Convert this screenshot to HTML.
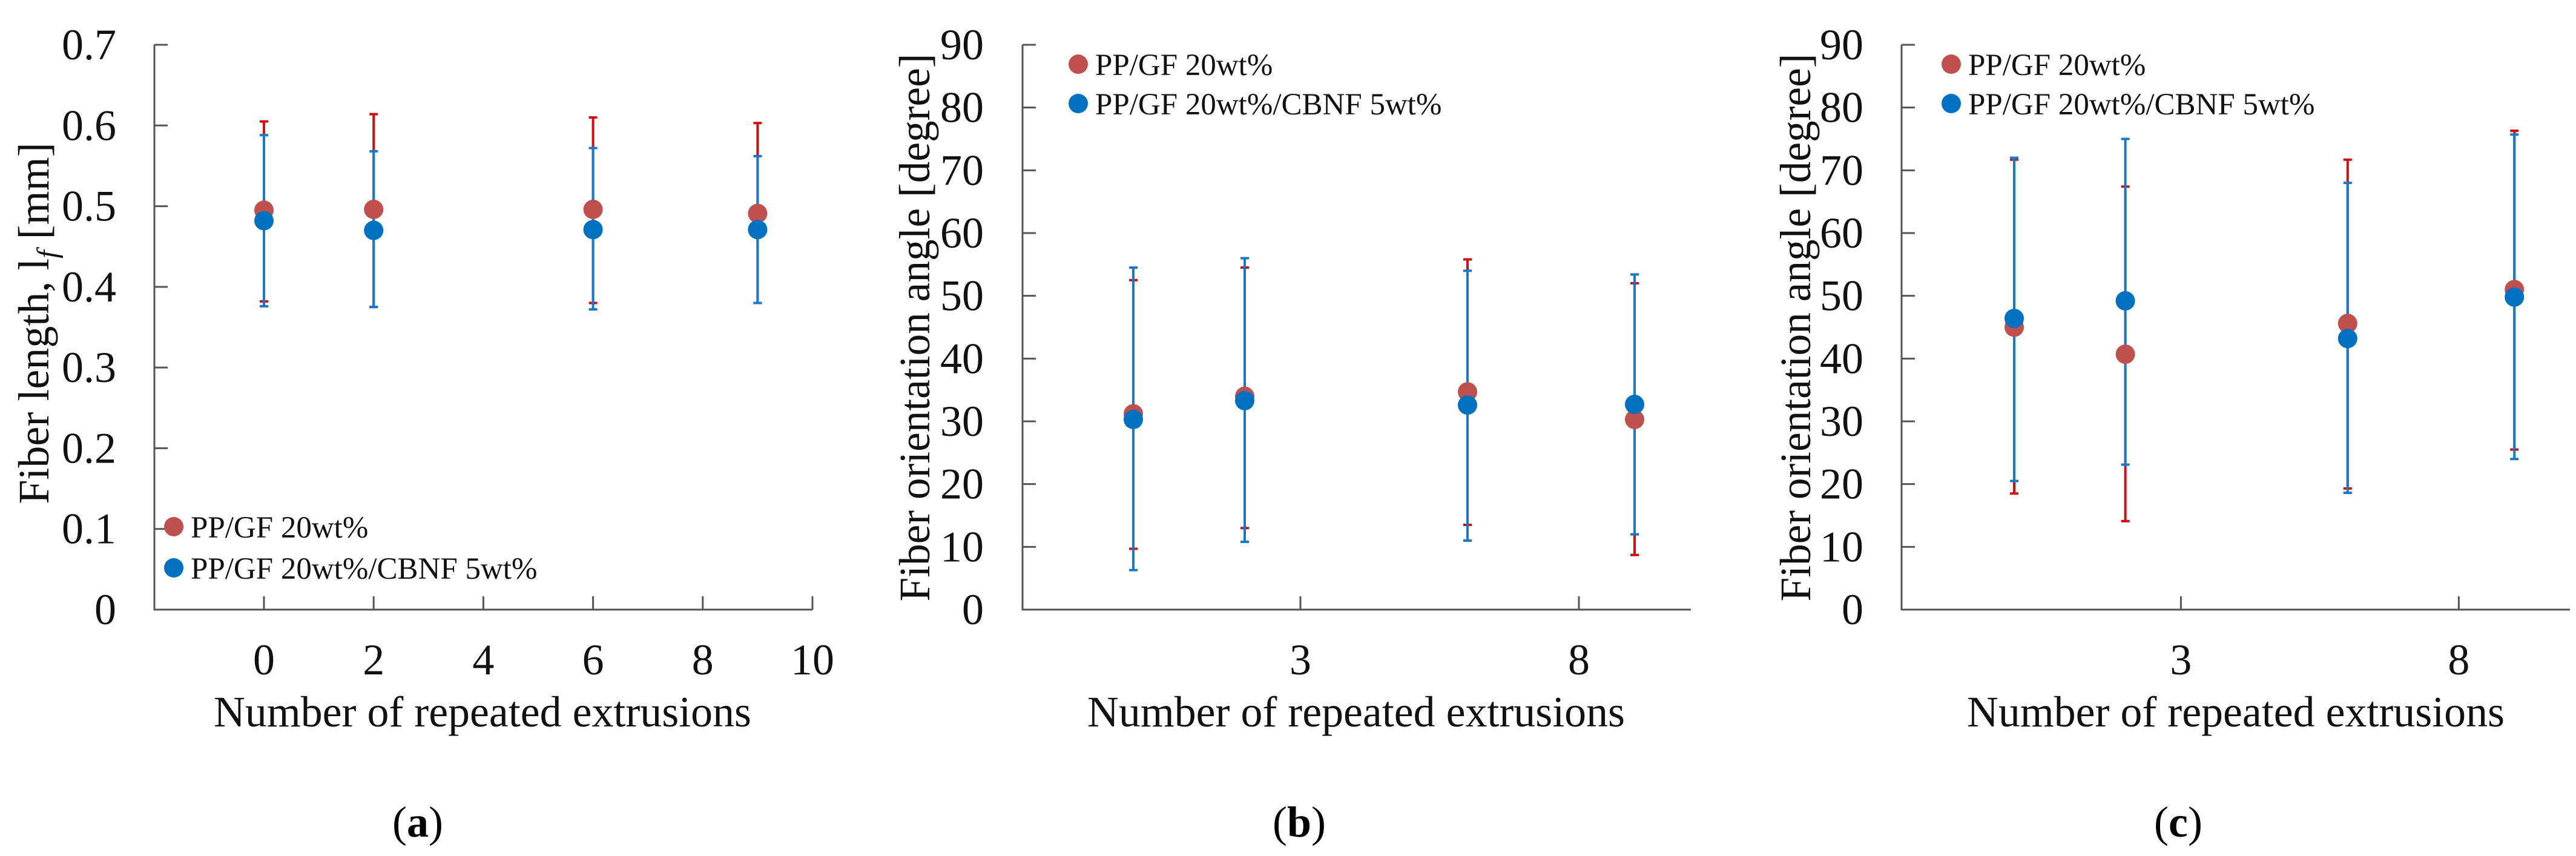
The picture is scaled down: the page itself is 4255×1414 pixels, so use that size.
<!DOCTYPE html>
<html><head><meta charset="utf-8"><style>
html,body{margin:0;padding:0;background:#fff;}
svg{display:block;}
svg text{font-family:"Liberation Serif","DejaVu Serif",serif;}
</style></head>
<body>
<svg id="fig" width="4255" height="1414" viewBox="0 0 4255 1414" xmlns="http://www.w3.org/2000/svg" font-family="Liberation Serif, DejaVu Serif, serif"></svg>
<script>
// shared x categories (number of repeated extrusions)
const xCats = [0, 2, 6, 9];
// panel a: fiber length (mm)
const aRed = [0.495, 0.496, 0.496, 0.491];
const aRedHi = [0.605, 0.614, 0.610, 0.603];
const aRedLo = [0.382, 0.375, 0.380, 0.380];
const aBlue = [0.482, 0.470, 0.471, 0.471];
const aBlueHi = [0.588, 0.568, 0.572, 0.562];
const aBlueLo = [0.376, 0.375, 0.372, 0.380];
const aYTicks = [0, 0.1, 0.2, 0.3, 0.4, 0.5, 0.6, 0.7];
const aXTicks = [0, 2, 4, 6, 8, 10];
// panel b: fiber orientation angle (deg)
const bRed = [31.2, 34.0, 34.7, 30.3];
const bRedHi = [52.5, 54.5, 55.8, 52.0];
const bRedLo = [9.7, 13.0, 13.5, 8.7];
const bBlue = [30.3, 33.3, 32.6, 32.7];
const bBlueHi = [54.5, 56.0, 54.0, 53.4];
const bBlueLo = [6.3, 10.8, 11.0, 12.0];
// panel c
const cRed = [45.0, 40.7, 45.6, 51.0];
const cRedHi = [71.7, 67.4, 71.7, 76.3];
const cRedLo = [18.5, 14.1, 19.3, 25.5];
const cBlue = [46.4, 49.2, 43.2, 49.8];
const cBlueHi = [72.0, 75.0, 68.0, 75.7];
const cBlueLo = [20.5, 23.1, 18.6, 24.0];
const angYTicks = [0, 10, 20, 30, 40, 50, 60, 70, 80, 90];
const angXTicks = [3, 8];
const legendLabels = ["PP/GF 20wt%", "PP/GF 20wt%/CBNF 5wt%"];

const NS = "http://www.w3.org/2000/svg";
const FONT = "Liberation Serif, DejaVu Serif, serif";
const svg = document.getElementById("fig");
function mk(tag, attrs, parent) {
  const e = document.createElementNS(NS, tag);
  for (const k in attrs) e.setAttribute(k, attrs[k]);
  if (tag === "text") e.setAttribute("font-family", FONT);
  (parent || svg).appendChild(e);
  return e;
}

const panels = [
  {id:"a", left:255, right:1342, x0:436, unit:90.6, yMax:0.7, yTicks:aYTicks, xTicks:aXTicks, fmt:v=>String(v),
   red:aRed, redHi:aRedHi, redLo:aRedLo, blue:aBlue, blueHi:aBlueHi, blueLo:aBlueLo,
   ytitle:"Fiber length, l", ylabRight:192, ytitleX:80, xtitleX:797, capX:690,
   leg:{x:287, y1:870, y2:938}},
  {id:"b", left:1689, right:2793, x0:1872, unit:92, yMax:90, yTicks:angYTicks, xTicks:angXTicks, fmt:v=>String(v),
   red:bRed, redHi:bRedHi, redLo:bRedLo, blue:bBlue, blueHi:bBlueHi, blueLo:bBlueLo,
   ytitle:"Fiber orientation angle [degree]", ylabRight:1625, ytitleX:1535, xtitleX:2240, capX:2146,
   leg:{x:1781, y1:106, y2:171}},
  {id:"c", left:3141, right:4245, x0:3327, unit:91.8, yMax:90, yTicks:angYTicks, xTicks:angXTicks, fmt:v=>String(v),
   red:cRed, redHi:cRedHi, redLo:cRedLo, blue:cBlue, blueHi:cBlueHi, blueLo:cBlueLo,
   ytitle:"Fiber orientation angle [degree]", ylabRight:3078, ytitleX:2990, xtitleX:3693, capX:3598,
   leg:{x:3223, y1:106, y2:171}}
];
const Y0 = 1007, Ytop = 74;

panels.forEach(p => {
  const g = mk("g", {});
  
  
  const xs = v => p.x0 + v * p.unit;
  const ys = v => Y0 - v / p.yMax * (Y0 - Ytop);

  const ax = mk("path", {d:`M${p.left} ${Ytop}V${Y0}H${p.right}`, fill:"none", stroke:"#555", "stroke-width":3}, g);
  
  
  p.yTicks.forEach(t => {
    const tk = mk("line", {x1:p.left, x2:p.left+22, y1:ys(t), y2:ys(t), stroke:"#555", "stroke-width":3}, g);
    
    
    const lb = mk("text", {x:p.ylabRight, y:ys(t)+24, "text-anchor":"end", "font-size":72, fill:"#111"}, g);
    lb.textContent = p.fmt(t);
    
    
  });
  p.xTicks.forEach(t => {
    const tk = mk("line", {x1:xs(t), x2:xs(t), y1:Y0, y2:Y0-22, stroke:"#555", "stroke-width":3}, g);
    
    
    const lb = mk("text", {x:xs(t), y:1114, "text-anchor":"middle", "font-size":72, fill:"#111"}, g);
    lb.textContent = String(t);
    
    
  });

  const xt = mk("text", {x:p.xtitleX, y:1200, "text-anchor":"middle", "font-size":72, fill:"#111", textLength:888, lengthAdjust:"spacingAndGlyphs"}, g);
  xt.textContent = "Number of repeated extrusions";
  
  

  const cy = p.id === "a" ? 534 : 541;
  const yt = mk("text", {x:0, y:0, "text-anchor":"middle", "font-size":72, fill:"#111",
    transform:`translate(${p.ytitleX},${cy}) rotate(-90)`}, g);
  if (p.id === "a") {
    yt.appendChild(document.createTextNode("Fiber length, l"));
    const sub = mk("tspan", {"font-size":48, "font-style":"italic", dy:14}, yt);
    sub.textContent = "f";
    const rest = mk("tspan", {dy:-14}, yt);
    rest.textContent = " [mm]";
  } else {
    yt.setAttribute("textLength", 905);
    yt.setAttribute("lengthAdjust", "spacingAndGlyphs");
    yt.textContent = p.ytitle;
  }
  
  

  function errs(hi, lo, color, name) {
    xCats.forEach((c, i) => {
      const x = xs(c);
      const eb = mk("path", {d:`M${x} ${ys(hi[i])}V${ys(lo[i])}M${x-7} ${ys(hi[i])}H${x+7}M${x-7} ${ys(lo[i])}H${x+7}`,
        stroke:color, "stroke-width":4, fill:"none"}, g);
      
      
    });
  }
  errs(p.redHi, p.redLo, "#d01010", "pp-gf");
  errs(p.blueHi, p.blueLo, "#1a78c8", "pp-gf-cbnf");
  p.red.forEach((v, i) => {
    const m = mk("circle", {cx:xs(xCats[i]), cy:ys(v), r:16, fill:"#c0504d"}, g);
    
    
  });
  p.blue.forEach((v, i) => {
    const m = mk("circle", {cx:xs(xCats[i]), cy:ys(v), r:16, fill:"#0070c0"}, g);
    
    
  });

  const lg = mk("g", {}, g);
  
  
  [[p.leg.y1, "#c0504d"], [p.leg.y2, "#0070c0"]].forEach((e, i) => {
    const c = mk("circle", {cx:p.leg.x, cy:e[0], r:16, fill:e[1]}, lg);
    
    
    const t = mk("text", {x:p.leg.x+28, y:e[0]+18, "font-size":51, fill:"#111"}, lg);
    t.textContent = legendLabels[i];
    
    
  });

  const cap = mk("text", {x:p.capX, y:1382, "text-anchor":"middle", "font-size":72, fill:"#000"}, g);
  cap.appendChild(document.createTextNode("("));
  const b = mk("tspan", {"font-weight":"bold"}, cap);
  b.textContent = p.id;
  cap.appendChild(document.createTextNode(")"));
  
  
});
</script>
</body></html>
